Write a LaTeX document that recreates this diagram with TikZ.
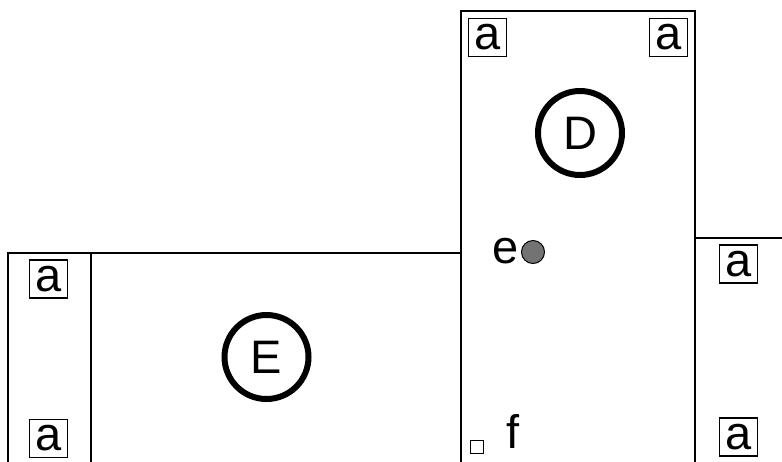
\documentclass[tikz,border=0pt]{standalone}
\usepackage{fontspec}
\setmainfont{Liberation Sans}
\begin{document}
\begin{tikzpicture}[x=1pt,y=-1pt,
  bigfont/.style={font=\fontsize{47}{50}\selectfont},
  abox/.style={draw,line width=1.4pt,inner sep=0pt,minimum width=38pt,minimum height=38pt,bigfont},
  ring/.style={draw,circle,line width=6pt,minimum size=84pt,inner sep=0pt,bigfont},
  wall/.style={line width=1.8pt}]
\useasboundingbox (0,0) rectangle (782,461);
% walls
\draw[wall] (461,475) -- (461,11) -- (695,11) -- (695,475);
\draw[wall] (8,475) -- (8,253) -- (461,253);
\draw[wall] (91,253) -- (91,475);
\draw[wall] (695,238) -- (790,238);
% boxes
\node[abox] (a1) at (48.5,279) {a};
\node[abox] (a2) at (48.5,438.5) {a};
\node[abox] (a3) at (487.5,37.5) {a};
\node[abox] (a4) at (668.5,37.5) {a};
\node[abox] (a5) at (738.5,264) {a};
\node[abox] (a6) at (738.5,437) {a};
% circles
\node[ring] (D) at (580,133) {D};
\node[ring] (E) at (266.5,357) {E};
% e dot
\node[circle,draw,line width=1pt,fill=black!55,minimum size=23pt,inner sep=0pt] (dot) at (533,252) {};
\node[bigfont,inner sep=0pt] (e) at (506,251) {e};
% f
\node[draw,line width=1.2pt,minimum size=13pt,inner sep=0pt] (sq) at (477,447) {};
\node[bigfont,inner sep=0pt,anchor=base] (f) at (513,448) {f};
\end{tikzpicture}
\end{document}
